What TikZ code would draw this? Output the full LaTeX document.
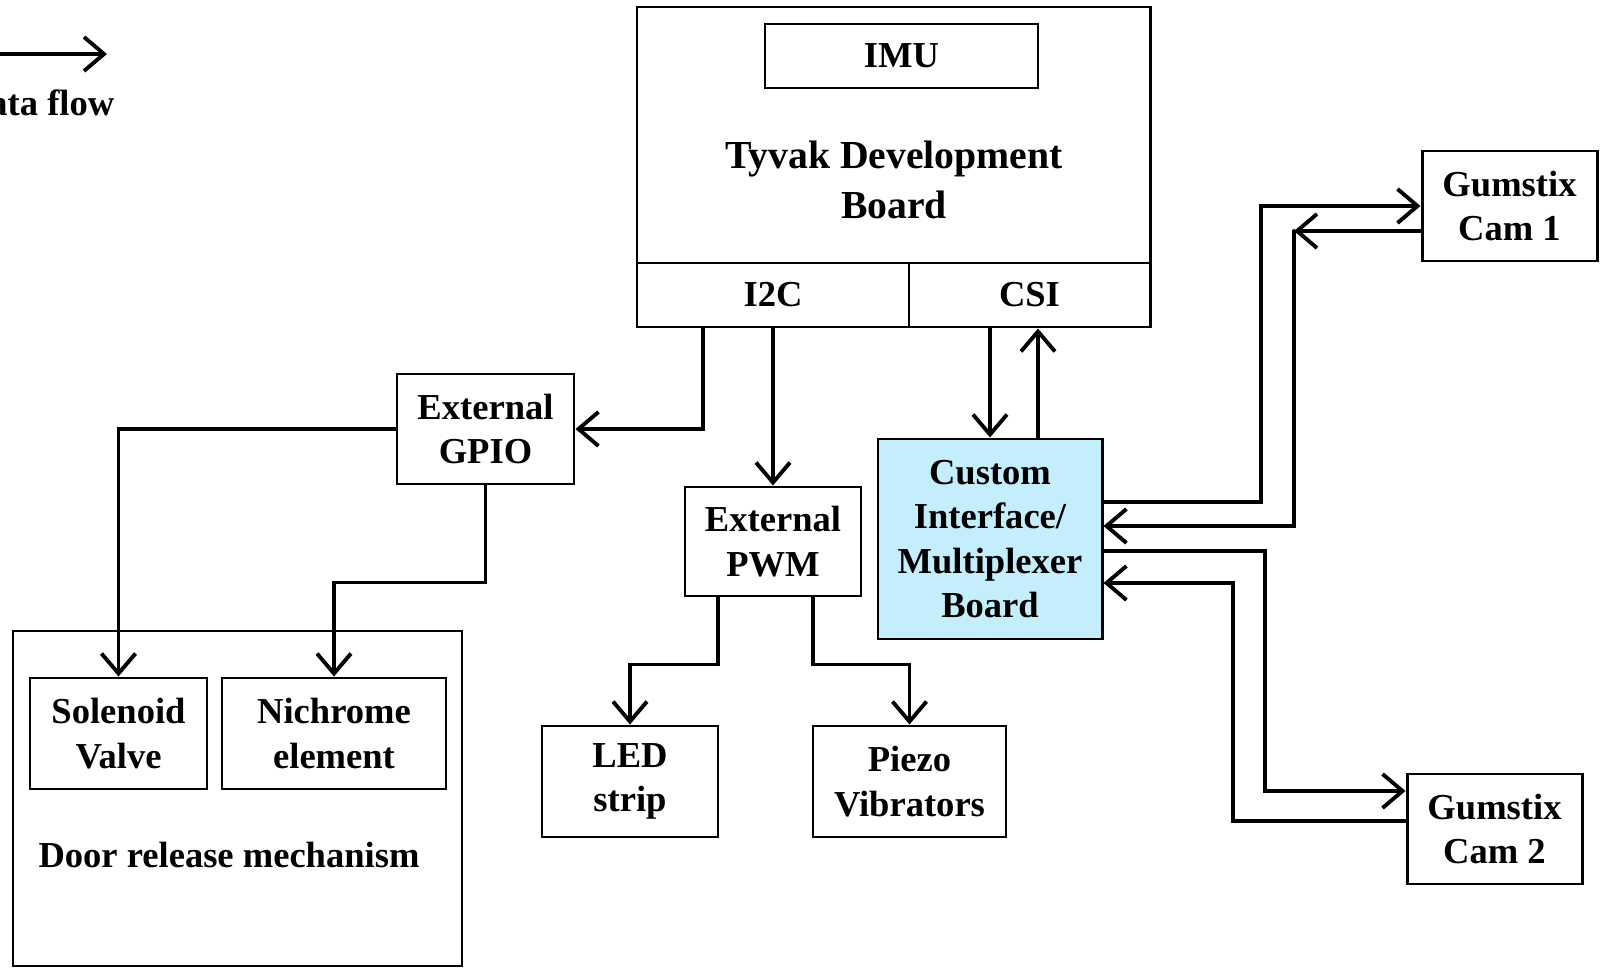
\documentclass[tikz,border=0pt]{standalone}
\usepackage{fontspec}
\setmainfont{Liberation Serif}
\usepackage{xcolor}
\usepackage{tikz}
\usetikzlibrary{arrows.meta, positioning, calc}
\definecolor{muxblue}{RGB}{196,238,252}
\tikzset{
  box/.style={rectangle, draw, line width=0.85pt, align=center, inner sep=2pt, font=\bfseries\fontsize{10.4}{12.6}\selectfont},
  bigtext/.style={align=center, font=\bfseries\fontsize{11.3}{14.4}\selectfont},
  lbl/.style={align=center, font=\bfseries\fontsize{10.4}{12.6}\selectfont},
  flow/.style={-{Straight Barb[length=2mm, width=3.4mm, line width=1.1pt]}, line width=1.1pt, line cap=round, line join=miter},
}

\begin{document}
\begin{tikzpicture}
  \useasboundingbox (0,0) rectangle (16.04,-9.73);

  % Legend (cut at the left edge)
  \coordinate (legstart) at (-0.7,-0.54);
  \coordinate (legend) at (1.07,-0.54);
  \draw[flow] (legstart) -- (legend);
  \node[lbl, anchor=east, inner sep=0pt] (legendtxt) at (1.15,-1.03) {Data flow};

  % Tyvak board
  \node[box, minimum width=5.13cm, minimum height=2.56cm] (board) at (8.935,-1.35) {};
  \node[box, minimum width=2.73cm, minimum height=0.64cm] (imu) at (9.015,-0.56) {IMU};
  \node[bigtext] (boardtxt) at (8.94,-1.80) {Tyvak Development\\Board};
  \node[box, minimum width=2.72cm, minimum height=0.64cm] (i2c) at (7.73,-2.95) {I2C};
  \node[box, minimum width=2.41cm, minimum height=0.64cm] (csi) at (10.295,-2.95) {CSI};

  % Interface boards
  \node[box, minimum width=1.77cm, minimum height=1.10cm] (gpio) at (4.855,-4.29) {External\\GPIO};
  \node[box, minimum width=1.76cm, minimum height=1.09cm] (pwm) at (7.73,-5.415) {External\\PWM};
  \node[box, fill=muxblue, minimum width=2.24cm, minimum height=2.00cm] (custom) at (9.90,-5.39) {Custom\\Interface/\\Multiplexer\\Board};

  % Cameras
  \node[box, minimum width=1.75cm, minimum height=1.10cm] (cam1) at (15.095,-2.06) {Gumstix\\Cam 1};
  \node[box, minimum width=1.75cm, minimum height=1.10cm] (cam2) at (14.945,-8.29) {Gumstix\\Cam 2};

  % Door release mechanism
  \node[box, minimum width=4.49cm, minimum height=3.35cm] (door) at (2.375,-7.985) {};
  \node[box, minimum width=1.77cm, minimum height=1.11cm] (solenoid) at (1.185,-7.335) {Solenoid\\Valve};
  \node[box, minimum width=2.24cm, minimum height=1.11cm] (nichrome) at (3.34,-7.335) {Nichrome\\element};
  \node[lbl] (doortxt) at (2.29,-8.55) {Door release mechanism};

  % Outputs of the PWM
  \node[box, minimum width=1.76cm, minimum height=1.11cm] (led) at (6.30,-7.815) {LED\\strip};
  \node[box, minimum width=1.93cm, minimum height=1.11cm] (piezo) at (9.095,-7.815) {Piezo\\Vibrators};

  % I2C and CSI links
  \draw[flow] ([xshift=-0.70cm]i2c.south) |- (gpio.east);
  \draw[flow] (i2c.south) -- (pwm.north);
  \draw[flow] (custom.north |- csi.south) -- (custom.north);
  \draw[flow] ([xshift=0.48cm]custom.north) -- ([xshift=0.48cm]custom.north |- csi.south);

  % Camera links
  \coordinate (b1) at (12.61,-2.06);
  \coordinate (b2) at (12.94,-2.31);
  \coordinate (b3) at (12.65,-7.91);
  \coordinate (b4) at (12.33,-8.21);
  \draw[flow] ([yshift=0.37cm]custom.east) -| (b1) -- (cam1.west);
  \draw[flow] ([yshift=-0.25cm]cam1.west) -- (b2);
  \draw[flow] (b2) |- ([yshift=0.13cm]custom.east);
  \draw[flow] ([yshift=-0.12cm]custom.east) -| (b3) -- ([yshift=0.38cm]cam2.west);
  \draw[flow] ([yshift=0.08cm]cam2.west) -- (b4) |- ([yshift=-0.44cm]custom.east);

  % GPIO and PWM outputs
  \draw[flow] (gpio.west) -| (solenoid.north);
  \draw[flow] (gpio.south) -- ++(0,-0.97) -| (nichrome.north);
  \draw[flow] ([xshift=-0.55cm]pwm.south) -- ++(0,-0.67) -| (led.north);
  \draw[flow] ([xshift=0.40cm]pwm.south) -- ++(0,-0.67) -| (piezo.north);
\end{tikzpicture}
\end{document}
